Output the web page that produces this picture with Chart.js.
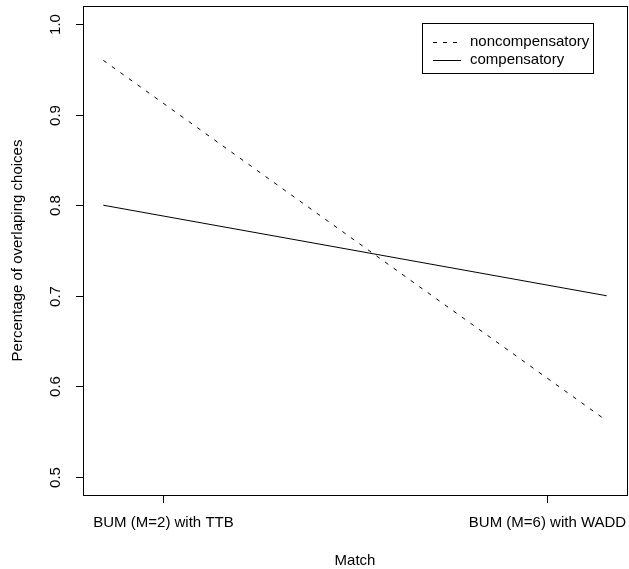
<!DOCTYPE html>
<html>
<head>
<meta charset="utf-8">
<script src="https://cdn.jsdelivr.net/npm/chart.js@4/dist/chart.umd.min.js"></script>
<style>
html,body{margin:0;padding:0;background:#fff;}
#wrap{width:629px;height:569px;position:relative;}
</style>
</head>
<body>
<div id="wrap"><canvas id="c" width="629" height="569"></canvas></div>
<script>
// ---- data ----
const categories = ["BUM (M=2) with TTB", "BUM (M=6) with WADD"];
const categoryPositions = [1, 2];
const lineX = [0.843, 2.157];
const noncompensatory = [0.96, 0.562];
const compensatory = [0.80, 0.70];
const yTicks = [0.5, 0.6, 0.7, 0.8, 0.9, 1.0];
const seriesNames = ["noncompensatory", "compensatory"];
const xTitle = "Match";
const yTitle = "Percentage of overlaping choices";

const FONT = '15px "Liberation Sans", Arial, Helvetica, sans-serif';

const rAxes = {
  id: 'rAxes',
  afterDraw(chart) {
    const ctx = chart.ctx;
    const a = chart.chartArea;
    const xs = chart.scales.x, ys = chart.scales.y;
    ctx.save();
    ctx.strokeStyle = '#000';
    ctx.fillStyle = '#000';
    ctx.lineWidth = 1;
    ctx.setLineDash([]);
    // box
    ctx.strokeRect(Math.round(a.left) + 0.5, Math.round(a.top) + 0.5,
                   Math.round(a.right - a.left), Math.round(a.bottom - a.top));
    ctx.font = FONT;
    // y ticks
    yTicks.forEach(v => {
      const py = Math.round(ys.getPixelForValue(v)) + 0.5;
      ctx.beginPath();
      ctx.moveTo(a.left - 7, py);
      ctx.lineTo(a.left, py);
      ctx.stroke();
      ctx.save();
      ctx.translate(56, py);
      ctx.rotate(-Math.PI / 2);
      ctx.textAlign = 'center';
      ctx.textBaseline = 'middle';
      ctx.fillText(v.toFixed(1), 0, 0);
      ctx.restore();
    });
    // x ticks
    categoryPositions.forEach((v, i) => {
      const px = Math.round(xs.getPixelForValue(v)) + 0.5;
      ctx.beginPath();
      ctx.moveTo(px, a.bottom);
      ctx.lineTo(px, a.bottom + 8);
      ctx.stroke();
      ctx.textAlign = 'center';
      ctx.textBaseline = 'middle';
      ctx.fillText(categories[i], px, 523);
    });
    // titles
    ctx.textAlign = 'center';
    ctx.textBaseline = 'middle';
    ctx.fillText(xTitle, (a.left + a.right) / 2, 561);
    ctx.save();
    ctx.translate(18, (a.top + a.bottom) / 2);
    ctx.rotate(-Math.PI / 2);
    ctx.fillText(yTitle, 0, 0);
    ctx.restore();
    // legend
    ctx.strokeRect(422.5, 23.5, 171, 50);
    const rows = [42, 60];
    const dashes = [[4, 6], []];
    rows.forEach((ry, i) => {
      ctx.setLineDash(dashes[i]);
      ctx.beginPath();
      ctx.moveTo(433, ry + 0.5);
      ctx.lineTo(461, ry + 0.5);
      ctx.stroke();
      ctx.setLineDash([]);
      ctx.textAlign = 'left';
      ctx.textBaseline = 'middle';
      ctx.fillText(seriesNames[i], 470, ry);
    });
    ctx.restore();
  }
};

new Chart(document.getElementById('c'), {
  type: 'scatter',
  data: {
    datasets: [
      {
        label: seriesNames[0],
        data: lineX.map((x, i) => ({x: x, y: noncompensatory[i]})),
        showLine: true,
        borderColor: '#000',
        borderWidth: 1,
        borderDash: [4, 6.5],
        pointRadius: 0,
        fill: false
      },
      {
        label: seriesNames[1],
        data: lineX.map((x, i) => ({x: x, y: compensatory[i]})),
        showLine: true,
        borderColor: '#000',
        borderWidth: 1,
        pointRadius: 0,
        fill: false
      }
    ]
  },
  options: {
    responsive: false,
    animation: false,
    devicePixelRatio: 1,
    layout: {padding: {left: 83, top: 6, right: 2, bottom: 74}},
    plugins: {legend: {display: false}, tooltip: {enabled: false}},
    scales: {
      x: {type: 'linear', min: 0.79, max: 2.21, display: false},
      y: {type: 'linear', min: 0.48, max: 1.02, display: false}
    }
  },
  plugins: [rAxes]
});
</script>
</body>
</html>
